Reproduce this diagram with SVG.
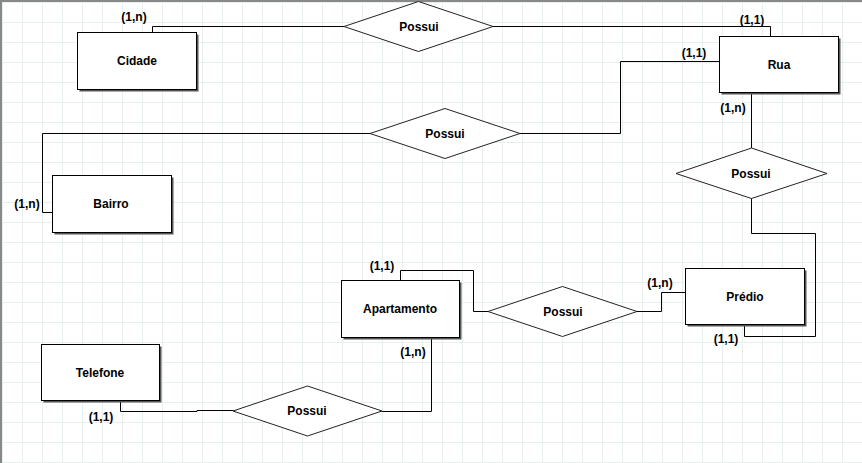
<svg xmlns="http://www.w3.org/2000/svg" width="862" height="463" viewBox="0 0 862 463">
<defs>
<pattern id="grid" x="2" y="2" width="20" height="20" patternUnits="userSpaceOnUse">
<path d="M0.5 0V20M0 0.5H20" stroke="#e8efef" stroke-width="1" fill="none"/>
</pattern>
<style>
.ent{fill:#fff;stroke:#000;stroke-width:1}
.sh{fill:#555}
.rel{fill:#fff;stroke:#222;stroke-width:1}
.t{font-family:"Liberation Sans",Arial,sans-serif;font-weight:bold;font-size:12px;fill:#000;text-anchor:middle}
.c{fill:none;stroke:#000;stroke-width:1}
</style>
</defs>
<rect width="862" height="463" fill="#fff"/>
<rect width="862" height="463" fill="url(#grid)"/>
<path d="M1 463V1H862" stroke="#888" stroke-width="2" fill="none"/>

<g id="connectors">
<path class="c" d="M152.5 32V26.5H344"/>
<path class="c" d="M493 26.5H770.5V36"/>
<path class="c" d="M719 61.5H620.5V133.5H520"/>
<path class="c" d="M370 133.5H42.5V212.5H52"/>
<path class="c" d="M751.5 93V148"/>
<path class="c" d="M751.5 198V233.5H815.5V336.5H744.5V325"/>
<path class="c" d="M685 292.5H661.5V311.5H637"/>
<path class="c" d="M488 311.5H473.5V270.5H400.5V280"/>
<path class="c" d="M431.5 337V411.5H382"/>
<path class="c" d="M233 410.5H197V411.5H120.5V401"/>
</g>

<g id="cidade">
<rect class="sh" x="79.5" y="34.5" width="119" height="57"/>
<rect class="ent" x="77.5" y="32.5" width="119" height="57"/>
<text class="t" x="137" y="65">Cidade</text>
</g>
<g id="rua">
<rect class="sh" x="721.5" y="38.5" width="119" height="56"/>
<rect class="ent" x="719.5" y="36.5" width="119" height="56"/>
<text class="t" x="779" y="69">Rua</text>
</g>
<g id="bairro">
<rect class="sh" x="54.5" y="177.5" width="119" height="57"/>
<rect class="ent" x="52.5" y="175.5" width="119" height="57"/>
<text class="t" x="111" y="208">Bairro</text>
</g>
<g id="predio">
<rect class="sh" x="687.5" y="270.5" width="119" height="56"/>
<rect class="ent" x="685.5" y="268.5" width="119" height="56"/>
<text class="t" x="745" y="301">Prédio</text>
</g>
<g id="apartamento">
<rect class="sh" x="343.5" y="282.5" width="118" height="57"/>
<rect class="ent" x="341.5" y="280.5" width="118" height="57"/>
<text class="t" x="400" y="313">Apartamento</text>
</g>
<g id="telefone">
<rect class="sh" x="43.5" y="346.5" width="118" height="56"/>
<rect class="ent" x="41.5" y="344.5" width="118" height="56"/>
<text class="t" x="100" y="377">Telefone</text>
</g>

<g id="rel-cidade-rua">
<polygon class="rel" points="344,26.5 418.5,1.5 493,26.5 418.5,51.5"/>
<text class="t" x="419" y="31">Possui</text>
</g>
<g id="rel-rua-bairro">
<polygon class="rel" points="370,133.5 445,108.5 520,133.5 445,158.5"/>
<text class="t" x="445" y="138">Possui</text>
</g>
<g id="rel-rua-predio">
<polygon class="rel" points="676,173.5 751.5,148 827,173.5 751.5,198.5"/>
<text class="t" x="751" y="178">Possui</text>
</g>
<g id="rel-predio-apto">
<polygon class="rel" points="488,311.5 562.5,286.5 637,311.5 562.5,336.5"/>
<text class="t" x="563" y="316">Possui</text>
</g>
<g id="rel-apto-telefone">
<polygon class="rel" points="233,411 307.5,386 382,411 307.5,436"/>
<text class="t" x="307" y="415">Possui</text>
</g>

<g id="labels">
<text class="t" x="134" y="21">(1,n)</text>
<text class="t" x="752" y="24">(1,1)</text>
<text class="t" x="694" y="57">(1,1)</text>
<text class="t" x="733" y="112">(1,n)</text>
<text class="t" x="27" y="208">(1,n)</text>
<text class="t" x="382" y="270">(1,1)</text>
<text class="t" x="660" y="287">(1,n)</text>
<text class="t" x="726" y="343">(1,1)</text>
<text class="t" x="413" y="356">(1,n)</text>
<text class="t" x="101" y="421">(1,1)</text>
</g>
</svg>
